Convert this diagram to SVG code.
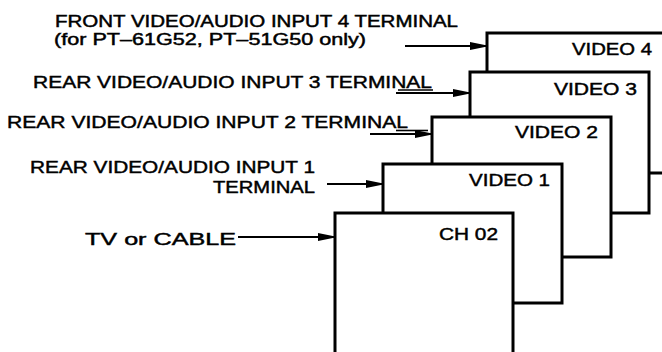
<svg xmlns="http://www.w3.org/2000/svg" width="662" height="352" viewBox="0 0 662 352">
<style>
  .lbl { font-family: "Liberation Sans", Arial, sans-serif; font-size: 17px; fill: #000; stroke: #000; stroke-width: 0.45; }
  .tight { font-size: 16px; }
  .box { fill: #fff; stroke: #000; stroke-width: 3; }
  .con { stroke: #000; stroke-width: 2.2; fill: none; }
  .ul { stroke: #000; stroke-width: 1.6; }
</style>
<defs>
  <marker id="ah" markerUnits="userSpaceOnUse" markerWidth="18" markerHeight="10" viewBox="0 -5 18 10" refX="16" refY="0" orient="auto">
    <path d="M0,-4 L16,-0.8 L16,0.8 L0,4 Z" fill="#000"/>
  </marker>
</defs>
<rect width="662" height="352" fill="#fff"/>

<g id="labels">
  <text class="lbl tight" x="55" y="27" textLength="403" lengthAdjust="spacingAndGlyphs">FRONT VIDEO/AUDIO INPUT 4 TERMINAL</text>
  <text class="lbl tight" x="54" y="45" textLength="312" lengthAdjust="spacingAndGlyphs">(for PT–61G52, PT–51G50 only)</text>
  <text class="lbl" x="33" y="88" textLength="399" lengthAdjust="spacingAndGlyphs">REAR VIDEO/AUDIO INPUT 3 TERMINAL</text>
  <text class="lbl" x="7" y="128" textLength="401" lengthAdjust="spacingAndGlyphs">REAR VIDEO/AUDIO INPUT 2 TERMINAL</text>
  <text class="lbl" x="30" y="173" textLength="285" lengthAdjust="spacingAndGlyphs">REAR VIDEO/AUDIO INPUT 1</text>
  <text class="lbl" x="213" y="193" textLength="102" lengthAdjust="spacingAndGlyphs">TERMINAL</text>
  <text class="lbl" x="85" y="245" textLength="151" lengthAdjust="spacingAndGlyphs">TV or CABLE</text>
</g>

<g id="node-video4">
  <rect class="box" x="487" y="33" width="180" height="140"/>
  <text class="lbl" x="572" y="55" textLength="80" lengthAdjust="spacingAndGlyphs">VIDEO 4</text>
</g>
<g id="node-video3">
  <rect class="box" x="470" y="72" width="179" height="141"/>
  <text class="lbl" x="554" y="95" textLength="83" lengthAdjust="spacingAndGlyphs">VIDEO 3</text>
</g>
<g id="node-video2">
  <rect class="box" x="432" y="117" width="179" height="140"/>
  <text class="lbl" x="515" y="138" textLength="83" lengthAdjust="spacingAndGlyphs">VIDEO 2</text>
</g>
<g id="node-video1">
  <rect class="box" x="383" y="164" width="179" height="139"/>
  <text class="lbl" x="469" y="186" textLength="81" lengthAdjust="spacingAndGlyphs">VIDEO 1</text>
</g>
<g id="node-ch02">
  <rect class="box" x="335" y="213" width="178" height="145"/>
  <text class="lbl" x="439" y="240" textLength="59" lengthAdjust="spacingAndGlyphs">CH 02</text>
</g>

<g id="connectors">
  <line class="con" x1="405" y1="46" x2="486" y2="46" marker-end="url(#ah)"/>
  <line class="ul" x1="398" y1="90" x2="433" y2="90"/>
  <line class="con" x1="396" y1="93" x2="469" y2="93" marker-end="url(#ah)"/>
  <line class="ul" x1="396" y1="130.5" x2="428" y2="130.5"/>
  <line class="con" x1="370" y1="134" x2="431" y2="134" marker-end="url(#ah)"/>
  <line class="con" x1="327" y1="184" x2="382" y2="184" marker-end="url(#ah)"/>
  <line class="con" x1="238" y1="237" x2="334" y2="237" marker-end="url(#ah)"/>
</g>
</svg>
